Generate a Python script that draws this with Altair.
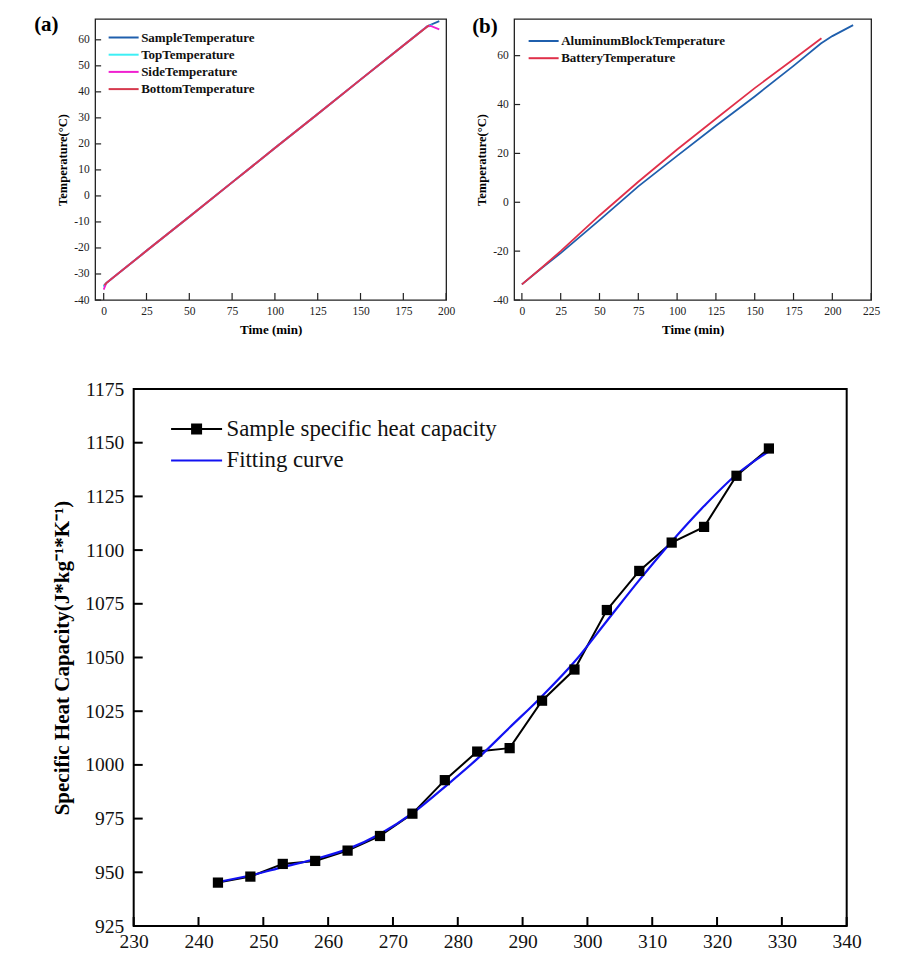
import altair as alt
import pandas as pd

FONT = "Liberation Serif"

# ---------------- Panel (a) data ----------------
a_series = ["SampleTemperature", "TopTemperature", "SideTemperature", "BottomTemperature"]
a_colors = ["#1F5FAD", "#3EEFF5", "#F020D0", "#D63A4E"]
a_sample_t = [0, 1.5, 25, 50, 75, 100, 125, 150, 175, 189, 196]
a_sample_v = [-34.6, -33.5, -21.1, -8.0, 5.2, 18.4, 31.5, 44.7, 57.8, 65.2, 67.2]
a_top_t = [0, 1.5, 25, 50, 75, 100, 125, 150, 175, 189, 192]
a_top_v = [-35.0, -33.5, -21.1, -8.0, 5.2, 18.4, 31.5, 44.7, 57.8, 65.2, 65.6]
a_side_t = [0, 1.5, 25, 50, 75, 100, 125, 150, 175, 189, 191, 196]
a_side_v = [-36.0, -33.5, -21.1, -8.0, 5.2, 18.4, 31.5, 44.7, 57.8, 65.2, 65.3, 64.0]
a_bottom_t = [0.4, 1.5, 25, 50, 75, 100, 125, 150, 175, 190]
a_bottom_v = [-34.3, -33.5, -21.1, -8.0, 5.2, 18.4, 31.5, 44.7, 57.8, 65.6]
a_xticks = [0, 25, 50, 75, 100, 125, 150, 175, 200]
a_yticks = [-40, -30, -20, -10, 0, 10, 20, 30, 40, 50, 60]

# ---------------- Panel (b) data ----------------
b_series = ["AluminumBlockTemperature", "BatteryTemperature"]
b_colors = ["#1F5FAD", "#E0304A"]
b_al_t = [0, 12, 25, 50, 75, 100, 125, 150, 175, 192.6, 200, 213.4]
b_al_v = [-33.6, -27.3, -20.8, -7.3, 6.5, 19.0, 31.3, 43.3, 55.8, 65.0, 68.0, 72.5]
b_bat_t = [0, 12, 25, 50, 75, 100, 125, 150, 175, 193]
b_bat_v = [-33.6, -27.2, -20.0, -5.4, 8.4, 21.6, 34.2, 46.7, 58.5, 67.1]
b_xticks = [0, 25, 50, 75, 100, 125, 150, 175, 200, 225]
b_yticks = [-40, -20, 0, 20, 40, 60]

# ---------------- Bottom panel data ----------------
c_names = ["Sample specific heat capacity", "Fitting curve"]
c_T = [243, 248, 253, 258, 263, 268, 273, 278, 283, 288, 293, 298, 303, 308, 313, 318, 323, 328]
c_cp = [945.2, 948.0, 953.9, 955.3, 960.1, 966.9, 977.3, 992.9, 1006.2, 1007.8,
        1029.9, 1044.4, 1072.1, 1090.3, 1103.5, 1110.8, 1134.6, 1147.3]
c_fit = [945.5, 948.5, 952.4, 956.2, 960.8, 967.8, 977.5, 989.8, 1002.8, 1017.4,
         1032.0, 1048.0, 1067.0, 1086.0, 1104.0, 1120.5, 1135.2, 1146.0]
c_xticks = [230, 240, 250, 260, 270, 280, 290, 300, 310, 320, 330, 340]
c_yticks = [925, 950, 975, 1000, 1025, 1050, 1075, 1100, 1125, 1150, 1175]


def series_df(names, ts, vs):
    rows = []
    for n, t, v in zip(names, ts, vs):
        for ti, vi in zip(t, v):
            rows.append({"Series": n, "Time": ti, "Temp": vi})
    return pd.DataFrame(rows)


def temp_panel(df, names, colors, xdom, xticks, ydom, yticks, W, H, label, label_dx, leg_x, leg_y):
    xs = alt.Scale(domain=xdom, nice=False, zero=False)
    ys = alt.Scale(domain=ydom, nice=False, zero=False)
    xax = alt.Axis(
        values=xticks, title="Time (min)", titleFont=FONT, titleFontSize=13,
        titleFontWeight="bold", titleColor="black", labelFont=FONT, labelFontSize=11.5,
        labelColor="#222", labelPadding=5, titlePadding=7, ticks=False, domain=False,
        grid=False, labelExpr="datum.value", labelOverlap=False, labelFlush=False)
    yax = alt.Axis(
        values=yticks, title="Temperature(°C)", titleFont=FONT, titleFontSize=12.5,
        titleFontWeight="bold", titleColor="black", labelFont=FONT, labelFontSize=11.5,
        labelColor="#222", labelPadding=6, titlePadding=4, ticks=False, domain=False,
        grid=False, labelExpr="datum.value", labelOverlap=False)
    lines = alt.Chart(df).mark_line(strokeWidth=1.8).encode(
        x=alt.X("Time:Q", scale=xs, axis=xax),
        y=alt.Y("Temp:Q", scale=ys, axis=yax),
        color=alt.Color("Series:N", scale=alt.Scale(domain=names, range=colors), legend=alt.Legend(
            title=None, orient="none", legendX=leg_x, legendY=leg_y, labelFont=FONT,
            labelFontSize=13, labelFontWeight="bold", labelColor="#111",
            symbolType="M-3,0H3", symbolSize=100, symbolStrokeWidth=2,
            labelOffset=11, rowPadding=3.2, padding=0, labelLimit=0)),
    )
    xt = alt.Chart(pd.DataFrame({"Time": xticks})).mark_rule(color="#222", strokeWidth=1.2).encode(
        x=alt.X("Time:Q", scale=xs, axis=xax), y=alt.value(H), y2=alt.value(H - 7))
    yt = alt.Chart(pd.DataFrame({"Temp": yticks})).mark_rule(color="#222", strokeWidth=1.2).encode(
        y=alt.Y("Temp:Q", scale=ys, axis=yax), x=alt.value(0), x2=alt.value(6))
    return alt.layer(lines, xt, yt).properties(
        width=W, height=H,
        view=alt.ViewBackground(stroke="#222", strokeWidth=1.3),
        title=alt.TitleParams(label, anchor="start", frame="group", font=FONT, fontSize=21,
                              fontWeight="bold", color="black", dx=label_dx, dy=18,
                              offset=0, baseline="top"),
    )


df_a = series_df(a_series,
                 [a_sample_t, a_top_t, a_side_t, a_bottom_t],
                 [a_sample_v, a_top_v, a_side_v, a_bottom_v])
df_b = series_df(b_series, [b_al_t, b_bat_t], [b_al_v, b_bat_v])

panel_a = temp_panel(df_a, a_series, a_colors, [-5, 200], a_xticks, [-40, 68], a_yticks,
                     351, 281, "(a)", -61, 22, 12)
panel_b = temp_panel(df_b, b_series, b_colors, [-5, 225], b_xticks, [-40, 75], b_yticks,
                     357, 281, "(b)", -42, 23, 15.5)

# ---------------- Bottom panel ----------------
BLUE = "#1212F2"
W3, H3 = 713, 537
xs3 = alt.Scale(domain=[230, 340], nice=False, zero=False)
ys3 = alt.Scale(domain=[925, 1175], nice=False, zero=False)

df_pts = pd.DataFrame({"T": c_T, "Cp": c_cp, "Series": c_names[0]})
df_fit = pd.DataFrame({"T": c_T, "Cp": c_fit, "Series": c_names[1]})

x_axis3 = alt.Axis(values=c_xticks, title=None, labelFont=FONT, labelFontSize=19.5, labelColor="#111",
                   labelPadding=6, ticks=False, domain=False, grid=False, labelOverlap=False,
                   labelFlush=False, labelExpr="datum.value")
y_axis3 = alt.Axis(values=c_yticks, title="Specific Heat Capacity(J*kg⁻¹*K⁻¹)", titleFont=FONT,
                   titleFontSize=21, titleFontWeight="bold", titleColor="black", labelFont=FONT,
                   labelFontSize=19.5, labelColor="#111", labelPadding=10, titlePadding=12,
                   ticks=False, domain=False, grid=False, labelOverlap=False,
                   labelExpr="datum.value")

X3 = alt.X("T:Q", scale=xs3, axis=x_axis3)
Y3 = alt.Y("Cp:Q", scale=ys3, axis=y_axis3)

sample_line = alt.Chart(df_pts).mark_line(color="black", strokeWidth=2).encode(x=X3, y=Y3)
fit_line = alt.Chart(df_fit).mark_line(color=BLUE, strokeWidth=2.2, interpolate="monotone").encode(
    x=X3, y=Y3)
squares = alt.Chart(df_pts).mark_point(shape="square", filled=True, size=105, color="black",
                                       opacity=1).encode(x=X3, y=Y3)

legend_c = alt.Legend(title=None, orient="none", legendX=51.5, legendY=28.5, labelFont=FONT,
                      labelFontSize=22.8, labelColor="#111", symbolSize=100, symbolStrokeWidth=2,
                      labelOffset=18.5, rowPadding=7.5, padding=0, labelLimit=0)
path_sample = "M-5.1,0H5.1M-0.9,-0.9H0.9V0.9H-0.9Z"
path_fit = "M-5.1,0H5.1"
legend_layer = alt.Chart(df_pts).transform_filter("false").mark_point(
    filled=True, opacity=1, size=100, strokeWidth=2).encode(
    x=X3, y=Y3,
    fill=alt.Fill("Series:N", scale=alt.Scale(domain=c_names, range=["black", BLUE]), legend=legend_c),
    stroke=alt.Stroke("Series:N", scale=alt.Scale(domain=c_names, range=["black", BLUE]), legend=legend_c),
    shape=alt.Shape("Series:N", scale=alt.Scale(domain=c_names, range=[path_sample, path_fit]),
                    legend=legend_c),
)
xt3 = alt.Chart(pd.DataFrame({"T": c_xticks})).mark_rule(color="black", strokeWidth=2).encode(
    x=X3, y=alt.value(H3), y2=alt.value(H3 - 9))
yt3 = alt.Chart(pd.DataFrame({"Cp": c_yticks})).mark_rule(color="black", strokeWidth=2).encode(
    y=Y3, x=alt.value(0), x2=alt.value(9))

panel_c = alt.layer(sample_line, fit_line, squares, legend_layer, xt3, yt3).properties(
    width=W3, height=H3, view=alt.ViewBackground(stroke="black", strokeWidth=2))

# an empty, invisible cell that widens the top row so the centred bottom panel sits where it should
spacer = alt.Chart(pd.DataFrame({"v": [0]})).mark_point(opacity=0).properties(
    width=1, height=1, view=alt.ViewBackground(stroke="transparent"))

top_pair = alt.hconcat(panel_a, panel_b, spacing=15).resolve_scale(
    color="independent").resolve_legend(color="independent")
top_row = alt.hconcat(top_pair, spacer, spacing=13)
chart = alt.vconcat(top_row, panel_c, spacing=40, center=True).resolve_scale(
    color="independent", fill="independent", stroke="independent", shape="independent"
).resolve_legend(
    color="independent", fill="independent", stroke="independent", shape="independent"
).properties(
    padding={"left": 25, "top": 5, "right": 0, "bottom": 0},
    background="white",
).configure(font=FONT).configure_axis(labelFont=FONT, titleFont=FONT).configure_legend(
    labelFont=FONT).configure_title(font=FONT)

chart.save("out.html", embed_options={"renderer": "svg", "actions": False})
